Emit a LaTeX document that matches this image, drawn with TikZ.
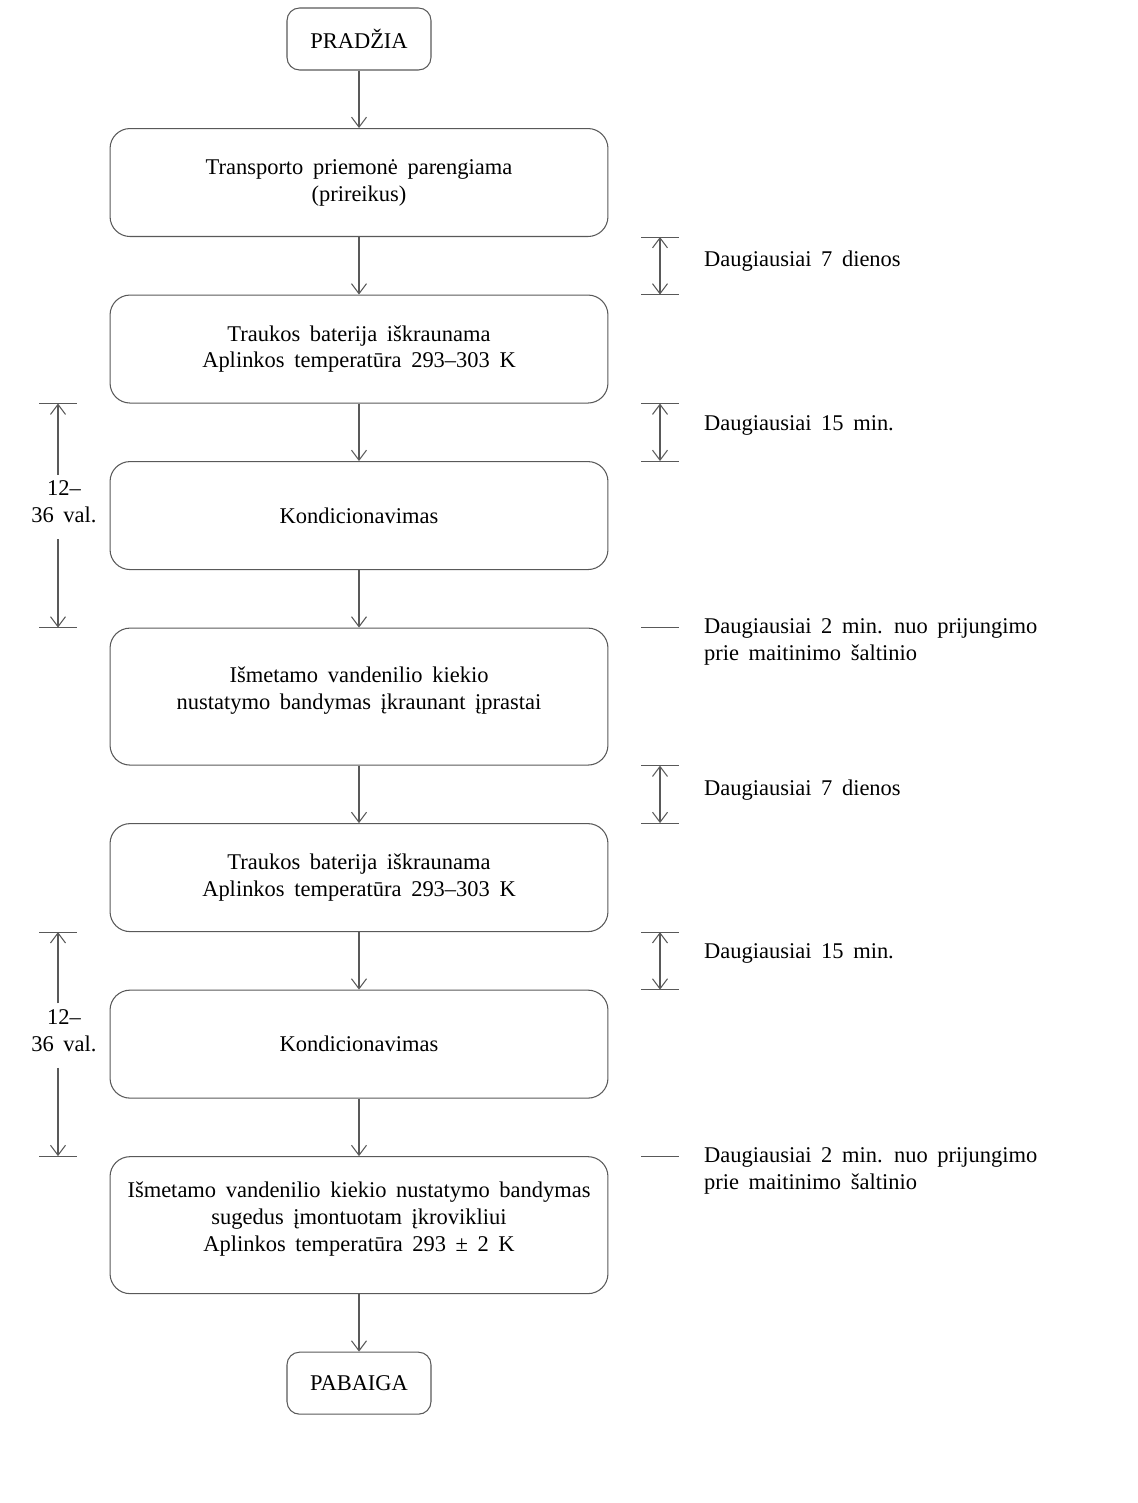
\documentclass[tikz,border=0pt]{standalone}
\usepackage{fontspec}
\setmainfont{Liberation Serif}[WordSpace={1.7}]
\usetikzlibrary{arrows.meta, positioning, calc}

\begin{document}
\begin{tikzpicture}[
    x=0.02cm, y=-0.02cm,
    every node/.style={font=\fontsize{12.8}{15.3}\selectfont, align=center},
    stepbox/.style={rectangle, rounded corners=0.4cm, draw=black!65, line width=0.6pt,
      minimum width=9.96cm, minimum height=2.16cm},
    tallbox/.style={stepbox, minimum height=2.74cm, text depth=0.35cm},
    endbox/.style={rectangle, rounded corners=0.25cm, draw=black!65, line width=0.6pt,
      minimum width=2.88cm, minimum height=1.24cm},
    flow/.style={draw=black!65, line width=0.6pt, -{Straight Barb[length=2mm, width=3mm]}},
    span/.style={flow, {Straight Barb[length=2mm, width=3mm]}-{Straight Barb[length=2mm, width=3mm]}},
    tick/.style={draw=black!65, line width=0.6pt},
    note/.style={align=left},
    node distance=1.15cm
  ]
  \useasboundingbox (0,0) rectangle (1138,1503);

  % main chain
  \node[endbox] (start) at (359,39) {PRADŽIA};
  \node[stepbox, below=of start] (prep) {Transporto priemonė parengiama\\(prireikus)};
  \node[stepbox, below=of prep] (bat1) {Traukos baterija iškraunama\\Aplinkos temperatūra 293–303 K};
  \node[stepbox, below=of bat1] (cond1) {Kondicionavimas};
  \node[tallbox, below=of cond1] (test1) {Išmetamo vandenilio kiekio\\nustatymo bandymas įkraunant įprastai};
  \node[stepbox, below=of test1] (bat2) {Traukos baterija iškraunama\\Aplinkos temperatūra 293–303 K};
  \node[stepbox, below=of bat2] (cond2) {Kondicionavimas};
  \node[tallbox, below=of cond2] (test2) {Išmetamo vandenilio kiekio nustatymo bandymas\\sugedus įmontuotam įkrovikliui\\Aplinkos temperatūra 293 ± 2 K};
  \node[endbox, below=of test2] (stop) {PABAIGA};

  \foreach \a/\b in {start/prep, prep/bat1, bat1/cond1, cond1/test1, test1/bat2, bat2/cond2, cond2/test2, test2/stop}
    \draw[flow] (\a) -- (\b);

  % time limits on the right
  \coordinate (rx) at (660,0);
  \coordinate (nx) at (698,0);
  \foreach \a/\b in {prep/bat1, bat1/cond1, test1/bat2, bat2/cond2} {
    \draw[tick] ($(\a.south -| rx)+(-19,0)$) -- +(38,0);
    \draw[tick] ($(\b.north -| rx)+(-19,0)$) -- +(38,0);
    \draw[span] (\a.south -| rx) -- (\b.north -| rx);
  }
  \foreach \a in {test1, test2}
    \draw[tick] ($(\a.north -| rx)+(-19,0)$) -- +(38,0);

  \node[note, anchor=west] (lim1) at ($(prep.south -| nx)!0.42!(bat1.north -| nx)$) {Daugiausiai 7 dienos};
  \node[note, anchor=west] (lim2) at ($(bat1.south -| nx)!0.38!(cond1.north -| nx)$) {Daugiausiai 15 min.};
  \node[note, anchor=north west, yshift=0.3cm] (lim3) at (test1.north -| nx) {Daugiausiai 2 min. nuo prijungimo\\prie maitinimo šaltinio};
  \node[note, anchor=west] (lim4) at ($(test1.south -| nx)!0.42!(bat2.north -| nx)$) {Daugiausiai 7 dienos};
  \node[note, anchor=west] (lim5) at ($(bat2.south -| nx)!0.38!(cond2.north -| nx)$) {Daugiausiai 15 min.};
  \node[note, anchor=north west, yshift=0.3cm] (lim6) at (test2.north -| nx) {Daugiausiai 2 min. nuo prijungimo\\prie maitinimo šaltinio};

  % conditioning time on the left
  \coordinate (lx) at (58,0);
  \node (dur1) at ($(bat1.south -| lx)!0.44!(test1.north -| lx)+(6,0)$) {12–\\36 val.};
  \node (dur2) at ($(bat2.south -| lx)!0.44!(test2.north -| lx)+(6,0)$) {12–\\36 val.};
  \foreach \d/\a/\b in {dur1/bat1/test1, dur2/bat2/test2} {
    \draw[tick] ($(\a.south -| lx)+(-19,0)$) -- +(38,0);
    \draw[tick] ($(\b.north -| lx)+(-19,0)$) -- +(38,0);
    \draw[flow] (\d.north -| lx) -- (\a.south -| lx);
    \draw[flow] ([yshift=-0.2cm]\d.south -| lx) -- (\b.north -| lx);
  }
\end{tikzpicture}
\end{document}
